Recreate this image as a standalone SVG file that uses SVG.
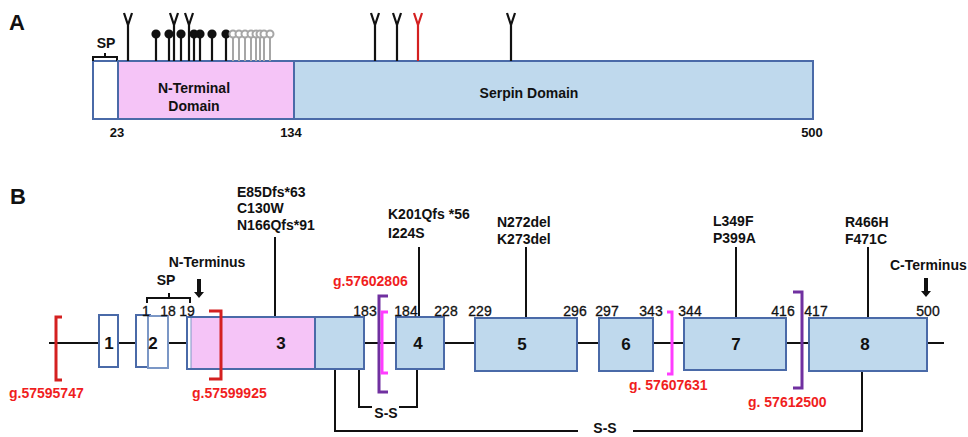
<svg xmlns="http://www.w3.org/2000/svg" width="968" height="437" viewBox="0 0 968 437">
<style>
text{font-family:"Liberation Sans",Arial,sans-serif;fill:#111}
.b{font-weight:bold;font-size:14px}
.pl{font-weight:bold;font-size:22px}
.num{font-size:13px;font-weight:bold}
.numr{font-size:14px;stroke:#111;stroke-width:0.3}
.ex{font-size:17px;font-weight:bold;text-anchor:middle}
.red{fill:#f01e1e;font-weight:bold;font-size:14px}
.box{stroke:#4a6aa8;stroke-width:2}
.blue{fill:#bfd9ed}
.pink{fill:#f5c4f7}
.wh{fill:#fff}
.ln{stroke:#111;stroke-width:2;fill:none}
.gly{stroke:#111;stroke-width:2.2;fill:none}
.gray{stroke:#a6a6a6;stroke-width:2;fill:#fff}
</style>
<defs>
<path id="Y" d="M0,61 V25 M-4,13 L0,25 L4,13"/>
<g id="lp"><line x1="0" y1="34" x2="0" y2="61"/><circle cx="0" cy="34" r="3.5"/></g>
<path id="arr" d="M-2,0 H2 V13 H5 L0,19 L-5,13 H-2 Z"/>
</defs>

<!-- Panel A -->
<g id="panelA">
<text class="pl" x="9" y="30">A</text>
<g id="sp-a">
<rect class="box wh" x="93" y="61" width="25" height="58"/>
<path class="ln" stroke-width="1.5" d="M93,61 V57 H117 V61 M105,57 V53"/>
<text class="b" x="106" y="48" text-anchor="middle">SP</text>
</g>
<g id="nterm-a">
<rect class="box pink" x="118" y="61" width="176" height="58"/>
<text class="b" x="194" y="93" text-anchor="middle">N-Terminal</text>
<text class="b" x="194" y="111" text-anchor="middle">Domain</text>
</g>
<g id="serpin-a">
<rect class="box blue" x="294" y="61" width="519" height="58"/>
<text class="b" x="529" y="98" text-anchor="middle">Serpin Domain</text>
</g>
<text class="num" x="117" y="137" text-anchor="middle">23</text>
<text class="num" x="291" y="137" text-anchor="middle">134</text>
<text class="num" x="812" y="137" text-anchor="middle">500</text>
<g id="glycans">
<g class="gly">
<use href="#Y" x="128"/><use href="#Y" x="174"/><use href="#Y" x="189"/>
<use href="#Y" x="375"/><use href="#Y" x="397"/><use href="#Y" x="511"/>
</g>
<use href="#Y" x="418" style="stroke:#d42020;stroke-width:2.2;fill:none"/>
<g style="stroke:#111;stroke-width:2.2;fill:#111">
<use href="#lp" x="156"/><use href="#lp" x="169"/><use href="#lp" x="181"/><use href="#lp" x="194"/><use href="#lp" x="200"/><use href="#lp" x="212"/><use href="#lp" x="226"/>
</g>
<g class="gray">
<use href="#lp" x="233"/><use href="#lp" x="239"/><use href="#lp" x="245"/><use href="#lp" x="251"/><use href="#lp" x="256"/><use href="#lp" x="260"/><use href="#lp" x="264"/><use href="#lp" x="270"/>
</g>
</g>
</g>

<!-- Panel B -->
<text class="pl" x="10" y="204">B</text>

<g id="connectors">
<line class="ln" x1="49" y1="343" x2="944" y2="343"/>
<!-- mutation stalks -->
<line class="ln" x1="275" y1="237" x2="275" y2="317"/>
<line class="ln" x1="419" y1="247" x2="419" y2="317"/>
<line class="ln" x1="526" y1="247" x2="526" y2="318"/>
<line class="ln" x1="736" y1="247" x2="736" y2="318"/>
<line class="ln" x1="868" y1="247" x2="868" y2="318"/>
<!-- S-S bonds -->
<path class="ln" d="M359,369 V407 H372 M399,407 H417 V369"/>
<path class="ln" d="M335,369 V431 H578 M633,431 H862 V371"/>
<!-- SP bracket -->
<path class="ln" stroke-width="1.5" d="M147,303 V298 H190 V303 M169,298 V293"/>
<!-- arrows -->
<use href="#arr" x="199" y="279" fill="#111"/>
<use href="#arr" x="926" y="278" fill="#111"/>
</g>

<g id="exon1">
<rect class="box wh" x="99" y="315" width="19" height="52"/>
<text class="ex" x="109" y="349">1</text>
</g>
<g id="exon2">
<rect class="box wh" x="136" y="315" width="14" height="52"/>
<rect class="wh" x="148" y="316" width="20" height="52" stroke="#7b97c6" stroke-width="2"/>
<text class="ex" x="153" y="349">2</text>
</g>
<g id="exon3">
<rect class="box wh" x="187" y="317" width="177" height="52"/>
<rect class="pink" x="191" y="318" width="124" height="50"/>
<line x1="191" y1="318" x2="191" y2="368" stroke="#7b97c6" stroke-width="1"/>
<rect class="box blue" x="315" y="317" width="49" height="52"/>
<line x1="187" y1="317" x2="315" y2="317" stroke="#4a6aa8" stroke-width="2"/>
<line x1="187" y1="369" x2="315" y2="369" stroke="#4a6aa8" stroke-width="2"/>
<text class="ex" x="281" y="349">3</text>
</g>
<g id="exon4">
<rect class="box blue" x="396" y="317" width="48" height="52"/>
<text class="ex" x="418" y="349">4</text>
</g>
<g id="exon5">
<rect class="box blue" x="475" y="318" width="102" height="53"/>
<text class="ex" x="522" y="350">5</text>
</g>
<g id="exon6">
<rect class="box blue" x="599" y="318" width="54" height="53"/>
<text class="ex" x="626" y="350">6</text>
</g>
<g id="exon7">
<rect class="box blue" x="684" y="318" width="102" height="52"/>
<text class="ex" x="736" y="350">7</text>
</g>
<g id="exon8">
<rect class="box blue" x="809" y="318" width="118" height="53"/>
<text class="ex" x="865" y="350">8</text>
</g>

<g id="positions" text-anchor="middle">
<text class="numr" x="146" y="316" text-anchor="middle">1</text>
<text class="numr" x="168" y="316" text-anchor="middle">18</text>
<text class="numr" x="187" y="316" text-anchor="middle">19</text>
<text class="numr" x="365" y="316" text-anchor="middle">183</text>
<text class="numr" x="406" y="316" text-anchor="middle">184</text>
<text class="numr" x="446" y="316" text-anchor="middle">228</text>
<text class="numr" x="480" y="316" text-anchor="middle">229</text>
<text class="numr" x="575" y="316" text-anchor="middle">296</text>
<text class="numr" x="607" y="316" text-anchor="middle">297</text>
<text class="numr" x="651" y="316" text-anchor="middle">343</text>
<text class="numr" x="690" y="316" text-anchor="middle">344</text>
<text class="numr" x="783" y="316" text-anchor="middle">416</text>
<text class="numr" x="816" y="316" text-anchor="middle">417</text>
<text class="numr" x="928" y="316" text-anchor="middle">500</text>
</g>

<g id="labels">
<text class="b" x="166" y="285" text-anchor="middle">SP</text>
<text class="b" x="207" y="267" text-anchor="middle">N-Terminus</text>
<text class="b" x="890" y="270">C-Terminus</text>
<text class="b" x="237" y="197">E85Dfs*63</text>
<text class="b" x="237" y="213">C130W</text>
<text class="b" x="237" y="230">N166Qfs*91</text>
<text class="b" x="388" y="219">K201Qfs *56</text>
<text class="b" x="388" y="238">I224S</text>
<text class="b" x="497" y="227">N272del</text>
<text class="b" x="497" y="244">K273del</text>
<text class="b" x="713" y="226">L349F</text>
<text class="b" x="713" y="243">P399A</text>
<text class="b" x="845" y="227">R466H</text>
<text class="b" x="845" y="244">F471C</text>
<text class="b" x="386" y="418" text-anchor="middle">S-S</text>
<text class="b" x="605" y="433" text-anchor="middle">S-S</text>
</g>

<g id="breakpoints" fill="none" stroke-width="3">
<path d="M62,317 H56 V380 H62" stroke="#d42020"/>
<path d="M209,311 H221 V379 H209" stroke="#d42020"/>
<path d="M388,296 H379 V392 H388" stroke="#7030a0"/>
<path d="M388,312 H382 V373 H388" stroke="#ff3cff"/>
<path d="M667,312 H672 V374 H667" stroke="#ff3cff"/>
<path d="M793,292 H802 V388 H793" stroke="#7030a0"/>
<text class="red" x="9" y="398" stroke="none">g.57595747</text>
<text class="red" x="192" y="398" stroke="none">g.57599925</text>
<text class="red" x="333" y="286" stroke="none">g.57602806</text>
<text class="red" x="629" y="390" stroke="none">g. 57607631</text>
<text class="red" x="748" y="407" stroke="none">g. 57612500</text>
</g>
</svg>
